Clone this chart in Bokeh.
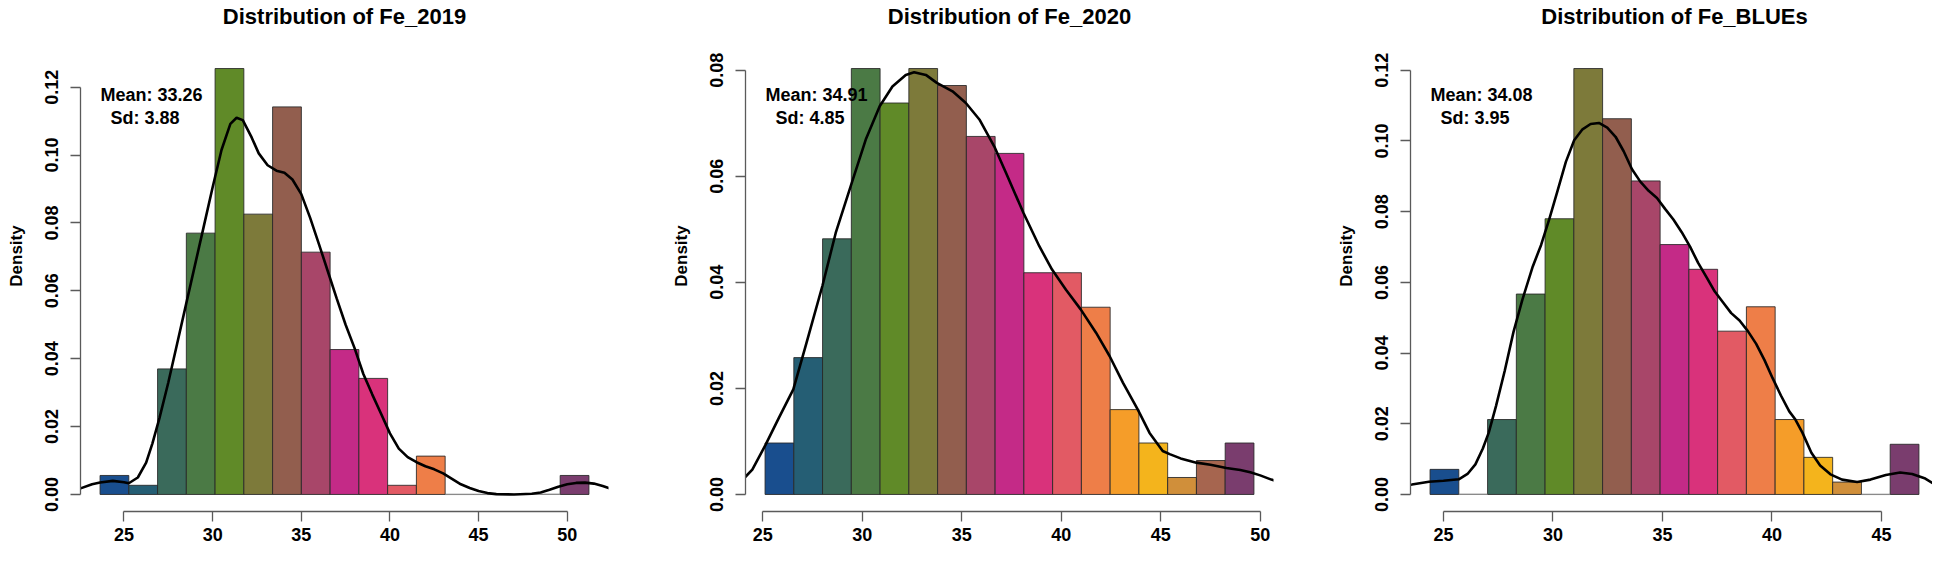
from bokeh.plotting import figure
from bokeh.layouts import row
from bokeh.models import Range1d, LinearAxis, FixedTicker, NumeralTickFormatter, ColumnDataSource
from bokeh.embed import file_html
from bokeh.resources import INLINE
from bokeh.core.properties import value

FONT = "Liberation Sans"

# ---------------- data ----------------
bar_colors = ["#194e8e", "#255e74", "#3a6a5b", "#4b7a45", "#608a28", "#7d7a3a",
              "#925e4e", "#a84669", "#c42a87", "#d9327b", "#e25a64", "#ee7e48",
              "#f59d29", "#f4b41c", "#d08f3a", "#a6654f", "#7a3d6e"]

titles = ["Distribution of Fe_2019", "Distribution of Fe_2020", "Distribution of Fe_BLUEs"]
mean_labels = ["Mean: 33.26", "Mean: 34.91", "Mean: 34.08"]
sd_labels = ["Sd: 3.88", "Sd: 4.85", "Sd: 3.95"]
y_label = "Density"

# Fe_2019
fe2019_bin_start = 23.65
fe2019_bin_width = 1.622
fe2019_density = [0.0056, 0.0027, 0.0370, 0.0770, 0.1255, 0.0826, 0.1142, 0.0714,
                  0.0427, 0.0342, 0.0027, 0.0113, 0.0, 0.0, 0.0, 0.0, 0.0056]
fe2019_kde_x = [22.3, 22.55, 23.2, 23.65, 24.37, 25.0, 25.27, 25.78, 26.25, 26.6, 27.0, 27.5,
                28.0, 28.5, 29.0, 29.5, 30.0, 30.5, 31.0, 31.35, 31.7, 32.2, 32.6, 33.1,
                33.6, 34.05, 34.5, 35.0, 35.5, 36.0, 36.5, 37.0, 37.5, 38.0, 38.5, 39.0,
                39.5, 40.0, 40.5, 41.0, 41.5, 42.0, 42.5, 43.0, 43.5, 44.0, 44.5, 45.0,
                45.5, 46.0, 47.0, 48.0, 48.5, 49.0, 49.5, 50.0, 50.5, 51.0, 51.5, 52.0, 52.5]
fe2019_kde_y = [0.0013, 0.0018, 0.0030, 0.0035, 0.0040, 0.0036, 0.0033, 0.0050, 0.0094, 0.0150,
                0.0225, 0.0330, 0.0445, 0.0560, 0.0675, 0.0790, 0.0905, 0.1015, 0.1092, 0.1110,
                0.1103, 0.1052, 0.1005, 0.0970, 0.0954, 0.0948, 0.0928, 0.0885, 0.0815, 0.0737,
                0.0657, 0.0577, 0.0500, 0.0432, 0.0355, 0.0295, 0.0238, 0.0180, 0.0135, 0.0110,
                0.0095, 0.0083, 0.0074, 0.0062, 0.0046, 0.0030, 0.0019, 0.0010, 0.0004, 0.0001,
                0.0, 0.0002, 0.0006, 0.0014, 0.0023, 0.0030, 0.0034, 0.0035, 0.0032, 0.0025, 0.0016]
fe2019_x_ticks = [25, 30, 35, 40, 45, 50]
fe2019_y_ticks = [0.0, 0.02, 0.04, 0.06, 0.08, 0.10, 0.12]

# Fe_2020
fe2020_bin_start = 25.12
fe2020_bin_width = 1.445
fe2020_density = [0.0097, 0.0258, 0.0482, 0.0803, 0.0738, 0.0803, 0.0771, 0.0675,
                  0.0643, 0.0418, 0.0418, 0.0353, 0.0160, 0.0097, 0.0032, 0.0064, 0.0097]
fe2020_kde_x = [24.0, 24.48, 25.15, 25.82, 26.54, 27.16, 28.0, 28.67, 29.42, 30.18, 30.88, 31.52,
                32.19, 32.61, 33.2, 33.75, 34.54, 35.21, 35.89, 36.64, 37.23, 38.1, 38.9, 39.54,
                40.24, 40.98, 41.75, 42.43, 43.1, 43.85, 44.44, 45.1, 45.45, 46.0, 46.79, 47.5,
                48.3, 49.0, 49.5, 50.0, 50.56, 50.9]
fe2020_kde_y = [0.0028, 0.0047, 0.0094, 0.0145, 0.0198, 0.0280, 0.0393, 0.0493, 0.0581, 0.0669,
                0.0732, 0.0769, 0.0791, 0.0796, 0.0791, 0.0776, 0.0760, 0.0738, 0.0707, 0.0656,
                0.0606, 0.0531, 0.0468, 0.0424, 0.0386, 0.0349, 0.0305, 0.0261, 0.0211, 0.0160,
                0.0116, 0.0082, 0.0076, 0.0068, 0.0060, 0.0056, 0.0050, 0.0046, 0.0042, 0.0036,
                0.0028, 0.0024]
fe2020_x_ticks = [25, 30, 35, 40, 45, 50]
fe2020_y_ticks = [0.0, 0.02, 0.04, 0.06, 0.08]

# Fe_BLUEs
blues_bin_start = 24.39
blues_bin_width = 1.313
blues_density = [0.0071, 0.0, 0.0212, 0.0567, 0.0780, 0.1205, 0.1063, 0.0887,
                 0.0707, 0.0637, 0.0462, 0.0531, 0.0212, 0.0105, 0.0035, 0.0, 0.0142]
blues_kde_x = [23.13, 23.56, 24.34, 25.0, 25.7, 26.1, 26.46, 26.8, 27.07, 27.4, 27.8, 28.2,
               28.6, 29.08, 29.46, 29.83, 30.21, 30.59, 30.97, 31.35, 31.72, 32.1, 32.48, 32.86,
               33.23, 33.61, 33.99, 34.37, 34.75, 35.12, 35.5, 35.88, 36.26, 36.63, 37.01, 37.39,
               37.77, 38.14, 38.52, 38.9, 39.28, 39.66, 40.03, 40.41, 40.79, 41.07, 41.39, 41.8,
               42.2, 42.67, 43.2, 43.89, 44.5, 45.2, 45.85, 46.4, 47.0, 47.37, 47.7]
blues_kde_y = [0.0024, 0.0028, 0.0036, 0.0039, 0.0043, 0.0058, 0.0085, 0.0130, 0.0175, 0.0250,
               0.0350, 0.0460, 0.0550, 0.0645, 0.0706, 0.0778, 0.0859, 0.0941, 0.1002, 0.1033,
               0.1048, 0.1051, 0.1038, 0.1012, 0.0971, 0.0920, 0.0885, 0.0859, 0.0839, 0.0808,
               0.0778, 0.0742, 0.0701, 0.0655, 0.0615, 0.0574, 0.0543, 0.0513, 0.0492, 0.0462,
               0.0426, 0.0380, 0.0329, 0.0280, 0.0235, 0.0212, 0.0175, 0.0118, 0.0082, 0.0057,
               0.0042, 0.0035, 0.0042, 0.0055, 0.0062, 0.0058, 0.0045, 0.0031, 0.0022]
blues_x_ticks = [25, 30, 35, 40, 45]
blues_y_ticks = [0.0, 0.02, 0.04, 0.06, 0.08, 0.10, 0.12]

# ---------------- layout constants ----------------
FRAME_W = 528      # width of the R plot region
REGION_H = 460     # height of the R plot region
TOP_SPACE = 51     # room above the plot region (title lives here, inside the frame)
BORDER_L = 80
BORDER_B = 37
AXIS_COL = "#5a5a5a"
EDGE_COL = "#262626"


def panel(title, bin_start, bin_width, density, kx, ky, xticks, yticks, mean_txt, sd_txt, fig_w):
    n = len(density)
    lefts = [bin_start + i * bin_width for i in range(n)]
    rights = [bin_start + (i + 1) * bin_width for i in range(n)]
    span = rights[-1] - lefts[0]
    x0 = lefts[0] - 0.04 * span
    x1 = rights[-1] + 0.04 * span
    top = max(density)
    y0, y1 = -0.04 * top, 1.04 * top
    fw = min(FRAME_W, fig_w - BORDER_L)
    x1v = x0 + (x1 - x0) * fw / FRAME_W
    px_x = fw / (x1v - x0)
    px_y = REGION_H / (y1 - y0)
    y1_ext = y1 + TOP_SPACE / px_y

    p = figure(frame_width=fw, frame_height=REGION_H + TOP_SPACE, title=None,
               x_range=Range1d(x0, x1v), y_range=Range1d(y0, y1_ext),
               min_border_left=BORDER_L, min_border_right=fig_w - BORDER_L - fw,
               min_border_top=0, min_border_bottom=BORDER_B,
               output_backend="svg", toolbar_location=None, tools="",
               x_axis_location=None, y_axis_location=None)
    p.outline_line_color = None
    p.grid.visible = False
    p.background_fill_color = "white"
    p.border_fill_color = "white"

    yax = LinearAxis(ticker=FixedTicker(ticks=yticks),
                     formatter=NumeralTickFormatter(format="0.00"),
                     bounds=(yticks[0], yticks[-1]), axis_label=y_label)
    xax = LinearAxis(ticker=FixedTicker(ticks=xticks), bounds=(xticks[0], xticks[-1]))
    for ax in (yax, xax):
        ax.axis_line_color = AXIS_COL
        ax.axis_line_width = 1.3
        ax.major_tick_line_color = AXIS_COL
        ax.major_tick_line_width = 1.3
        ax.major_tick_out = 10
        ax.major_tick_in = 0
        ax.minor_tick_line_color = None
        ax.major_label_text_font = FONT
        ax.major_label_text_font_size = "18px"
        ax.major_label_text_font_style = "bold"
        ax.major_label_text_color = "black"
    yax.major_label_orientation = "vertical"
    yax.major_label_standoff = 12
    yax.axis_label_text_font = FONT
    yax.axis_label_text_font_size = "17px"
    yax.axis_label_text_font_style = "bold"
    yax.axis_label_text_color = "black"
    yax.axis_label_standoff = 17
    xax.major_label_standoff = 6
    p.add_layout(yax, "left")
    p.add_layout(xax, "below")

    src = ColumnDataSource(dict(left=lefts, right=rights, top=density,
                                color=bar_colors[:n]))
    p.quad(left="left", right="right", bottom=0, top="top", source=src,
           fill_color="color", line_color=EDGE_COL, line_alpha=0.85, line_width=1)

    # empty bins are drawn by R as a flat outline along the baseline
    empty_l = [l for l, d in zip(lefts, density) if d == 0]
    empty_r = [r for r, d in zip(rights, density) if d == 0]
    if empty_l:
        p.segment(x0=empty_l, y0=[0] * len(empty_l), x1=empty_r, y1=[0] * len(empty_r),
                  line_color="#8a8a8a", line_width=1.2)

    p.line(kx, ky, line_color="black", line_width=2.6)

    def txt(x, y, s, size, align):
        p.text(x=[x], y=[y], text=[s], text_font=value(FONT), text_font_style="bold",
               text_font_size=size, text_baseline="alphabetic", text_align=align,
               text_color="black")

    # title centred over the full plot region, in the space above it
    txt((x0 + x1) / 2, y1 + 35 / px_y, title, "22px", "center")
    # mean / sd annotation
    txt(x0 + 20 / px_x, y1 - 43.6 / px_y, mean_txt, "18px", "left")
    txt(x0 + 30 / px_x, y1 - 66 / px_y, sd_txt, "18px", "left")
    return p


p1 = panel(titles[0], fe2019_bin_start, fe2019_bin_width, fe2019_density, fe2019_kde_x, fe2019_kde_y,
           fe2019_x_ticks, fe2019_y_ticks, mean_labels[0], sd_labels[0], 665)
p2 = panel(titles[1], fe2020_bin_start, fe2020_bin_width, fe2020_density, fe2020_kde_x, fe2020_kde_y,
           fe2020_x_ticks, fe2020_y_ticks, mean_labels[1], sd_labels[1], 665)
p3 = panel(titles[2], blues_bin_start, blues_bin_width, blues_density, blues_kde_x, blues_kde_y,
           blues_x_ticks, blues_y_ticks, mean_labels[2], sd_labels[2], 602)

layout = row(p1, p2, p3)
open("out.html", "w").write(file_html(layout, INLINE))
